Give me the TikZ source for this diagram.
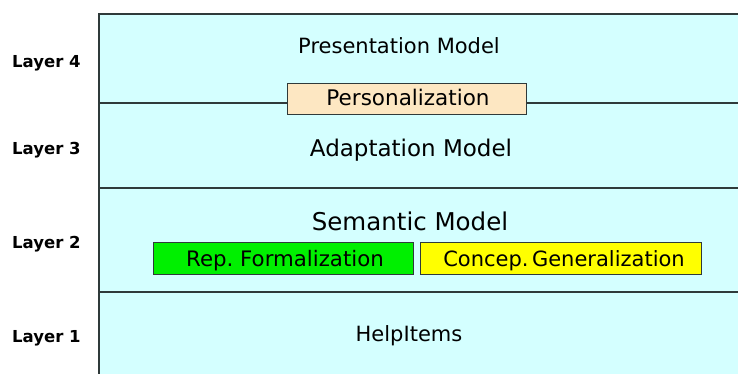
\documentclass[tikz,border=0pt]{standalone}
\usepackage{fontspec}
\setmainfont{DejaVu Sans}
\definecolor{panelfill}{HTML}{D4FFFF}
\definecolor{peach}{HTML}{FDE7C2}
\definecolor{brightgreen}{HTML}{00F000}
\definecolor{brightyellow}{HTML}{FFFF00}
\definecolor{edge}{HTML}{2F3A3A}
\tikzset{
  layerlabel/.style={anchor=base west, inner sep=0pt, font=\fontsize{16.5}{18}\selectfont\bfseries},
  title/.style={anchor=base, inner sep=0pt},
  subbox/.style={draw=edge, line width=1pt, inner sep=0pt},
  sep/.style={draw=edge, line width=1.4pt},
}
\begin{document}
\frenchspacing
\begin{tikzpicture}[x=1pt,y=-1pt]
\useasboundingbox (0,0) rectangle (738,374);
\begin{scope}
\clip (0,0) rectangle (738,374);
\fill[panelfill] (99,14) rectangle (745,380);
\draw[sep] (745,14) -- (99,14) -- (99,380);
\coordinate (s4a) at (99,103);
\coordinate (s4b) at (745,103);
\coordinate (s3a) at (99,188);
\coordinate (s3b) at (745,188);
\coordinate (s2a) at (99,292);
\coordinate (s2b) at (745,292);
\draw[sep] (s4a) -- (s4b);
\draw[sep] (s3a) -- (s3b);
\draw[sep] (s2a) -- (s2b);
\end{scope}
% layer labels
\node[layerlabel] (l4) at (12,68) {Layer 4};
\node[layerlabel] (l3) at (12,155) {Layer 3};
\node[layerlabel] (l2) at (12,248) {Layer 2};
\node[layerlabel] (l1) at (12,342) {Layer 1};
% model titles
\node[title, font=\fontsize{21}{24}\selectfont] (pres) at (399,54) {Presentation Model};
\node[title, font=\fontsize{23}{26}\selectfont] (adapt) at (411,157) {Adaptation Model};
\node[title, font=\fontsize{24.5}{28}\selectfont] (sem) at (410,230) {Semantic Model};
\node[title, font=\fontsize{21}{24}\selectfont] (help) at (409,341) {HelpItems};
% boxes
\path[subbox, fill=peach] (287,84) rectangle (526,115);
\node[title, font=\fontsize{21.5}{24}\selectfont] (pers) at (408,106) {Personalization};
\path[subbox, fill=brightgreen] (153,242) rectangle (413,274);
\node[title, font=\fontsize{21.3}{24}\selectfont] (rep) at (285,266) {Rep. Formalization};
\path[subbox, fill=brightyellow] (420,242) rectangle (701,274);
\node[title, font=\fontsize{21}{24}\selectfont] (concep) at (564,266) {Concep.\,Generalization};
\end{tikzpicture}
\end{document}
